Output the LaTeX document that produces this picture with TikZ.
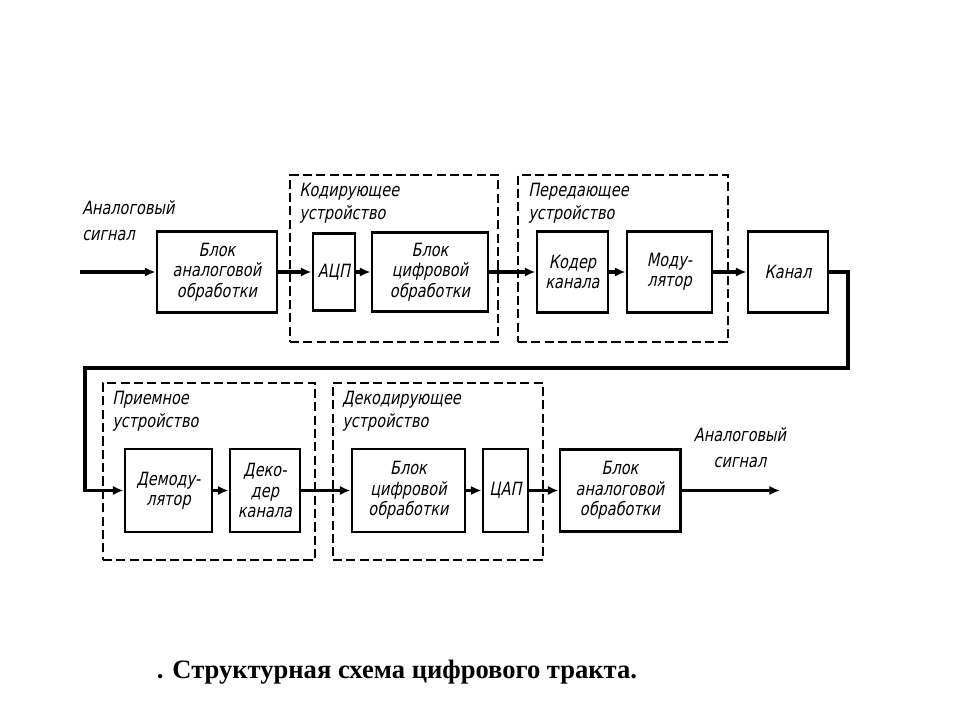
\documentclass[tikz,border=0pt]{standalone}
\usepackage{fontspec}
\newfontfamily\dfont{DejaVu Sans Condensed}[FakeSlant=0.2, FakeStretch=0.88]
\newfontfamily\capfont{Liberation Serif}
\usetikzlibrary{arrows.meta}
\begin{document}
\begin{tikzpicture}[x=0.025cm,y=-0.025cm,
  txt/.style={font=\dfont\fontsize{13}{14.5}\selectfont},
  box/.style={draw, line width=2.1pt, align=center, inner sep=0pt, txt},
  grp/.style={draw, line width=1.4pt, dash pattern=on 6.5pt off 3pt, inner sep=0pt},
  lbl/.style={align=left, inner sep=0pt, font=\dfont\fontsize{13}{16}\selectfont},
  conn/.style={line width=2.4pt, line join=miter, -{Latex[length=7.5pt,width=6.5pt]}},
]
\useasboundingbox[fill=white] (0,0) rectangle (960,720);

% dashed groups
\node[grp, minimum width=5.2cm,  minimum height=4.175cm] (g1) at (394,258.5) {};
\node[grp, minimum width=5.25cm, minimum height=4.175cm] (g2) at (623,258.5) {};
\node[grp, minimum width=5.3cm,  minimum height=4.425cm] (g3) at (209,471.5) {};
\node[grp, minimum width=5.25cm, minimum height=4.425cm] (g4) at (438,471.5) {};

\node[lbl, anchor=north west] (l1) at (299,183) {Кодирующее\\устройство};
\node[lbl, anchor=north west] (l2) at (528,183) {Передающее\\устройство};
\node[lbl, anchor=north west] (l3) at (112,391) {Приемное\\устройство};
\node[lbl, anchor=north west] (l4) at (342,391) {Декодирующее\\устройство};

% top row
\node[box, minimum width=3cm,     minimum height=2.025cm] (ba1) at (217,272) {Блок\\аналоговой\\обработки};
\node[box, minimum width=1.05cm,  minimum height=1.925cm] (acp) at (334,272) {АЦП};
\node[box, minimum width=2.9cm,   minimum height=1.975cm] (bd1) at (430,272) {Блок\\цифровой\\обработки};
\node[box, minimum width=1.775cm, minimum height=2.025cm] (kod) at (572.5,272) {Кодер\\канала};
\node[box, minimum width=2.125cm, minimum height=2.025cm] (mod) at (669.5,272) {Моду-\\лятор};
\node[box, minimum width=2cm,     minimum height=2.025cm] (kan) at (788,272) {Канал};

% bottom row
\node[box, minimum width=2.175cm, minimum height=2.075cm] (dem) at (168.5,490.5) {Демоду-\\лятор};
\node[box, minimum width=1.75cm,  minimum height=2.075cm] (dec) at (265,490.5) {Деко-\\дер\\канала};
\node[box, minimum width=2.825cm, minimum height=2.075cm] (bd2) at (408.5,490.5) {Блок\\цифровой\\обработки};
\node[box, minimum width=1.125cm, minimum height=2.075cm] (cap) at (505.5,490.5) {ЦАП};
\node[box, minimum width=3cm,     minimum height=2.05cm] (ba2) at (620,490.5) {Блок\\аналоговой\\обработки};

% signal labels
\node[lbl, anchor=north west, font=\dfont\fontsize{13}{19}\selectfont] (sin) at (82,200) {Аналоговый\\сигнал};
\node[lbl, align=center, anchor=north, font=\dfont\fontsize{13}{19}\selectfont] (sout) at (740,427) {Аналоговый\\сигнал};

\coordinate (in) at (80,272);
\coordinate (out) at (780,490.5);
\coordinate (c1) at (848,272);
\coordinate (c2) at (848,368);
\coordinate (c3) at (85,368);
\coordinate (c4) at (85,490.5);

\draw[conn] (in) -- (ba1);
\draw[conn] (ba1) -- (acp);
\draw[conn] (acp) -- (bd1);
\draw[conn] (bd1) -- (kod);
\draw[conn] (kod) -- (mod);
\draw[conn] (mod) -- (kan);
\draw[conn] (kan.east) -- (c1) -- (c2) -- (c3) -- (c4) -- (dem.west);
\draw[conn] (dem) -- (dec);
\draw[conn] (dec) -- (bd2);
\draw[conn] (bd2) -- (cap);
\draw[conn] (cap) -- (ba2);
\draw[conn] (ba2) -- (out);

\node[font=\capfont\bfseries\fontsize{18.9}{22}\selectfont, inner sep=0pt] (caption) at (397,672) {. Структурная схема цифрового тракта.};
\end{tikzpicture}
\end{document}
